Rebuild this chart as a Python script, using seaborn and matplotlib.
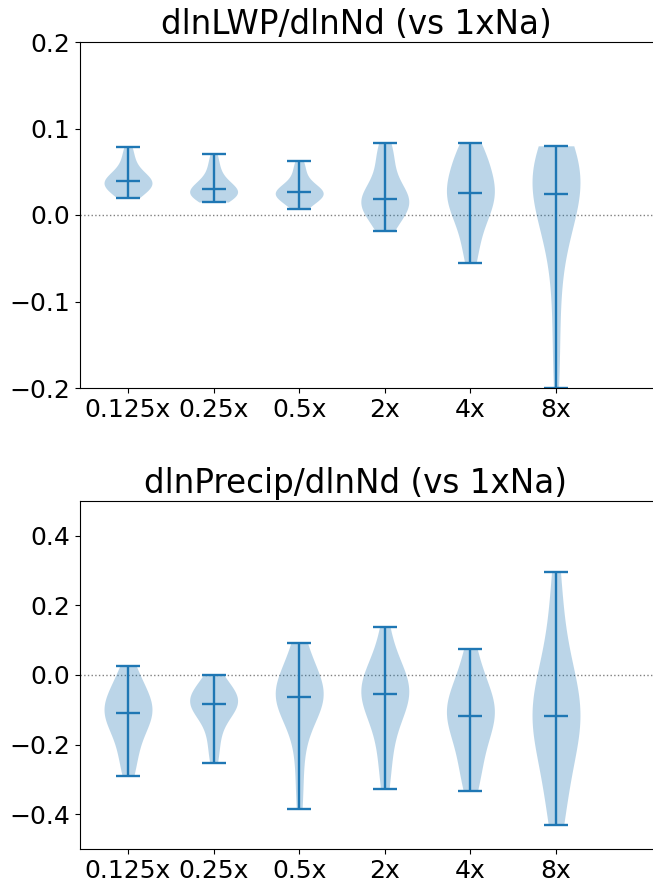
import numpy as np
import pandas as pd
import matplotlib
matplotlib.use("Agg")
import matplotlib.pyplot as plt
import seaborn as sns

categories = ["0.125x", "0.25x", "0.5x", "2x", "4x", "8x"]

lwp_0125 = [0.020, 0.023, 0.026, 0.029, 0.031, 0.033, 0.035, 0.037, 0.038, 0.039,
            0.040, 0.042, 0.044, 0.047, 0.050, 0.055, 0.062, 0.070, 0.079]
lwp_025 = [0.015, 0.018, 0.020, 0.022, 0.023, 0.024, 0.025, 0.027, 0.029, 0.030,
           0.032, 0.034, 0.036, 0.040, 0.045, 0.052, 0.060, 0.070]
lwp_05 = [0.007, 0.012, 0.016, 0.019, 0.021, 0.022, 0.023, 0.025, 0.026, 0.027,
          0.028, 0.030, 0.032, 0.035, 0.040, 0.047, 0.055, 0.062]
lwp_2 = [-0.0185, -0.012, -0.006, 0.000, 0.005, 0.008, 0.011, 0.013, 0.015, 0.017,
         0.019, 0.021, 0.024, 0.028, 0.033, 0.040, 0.048, 0.058, 0.068, 0.076, 0.083]
lwp_4 = [-0.056, -0.045, -0.033, -0.020, -0.008, -0.004, 0.002, 0.005, 0.010, 0.016,
         0.020, 0.023, 0.026, 0.029, 0.032, 0.036, 0.040, 0.045, 0.050, 0.056, 0.062,
         0.068, 0.073, 0.078, 0.083]
lwp_8 = [-0.200, -0.160, -0.120, -0.085, -0.055, -0.035, -0.020, -0.008, -0.003, 0.002,
         0.010, 0.016, 0.020, 0.024, 0.032, 0.036, 0.040, 0.045, 0.050, 0.055, 0.060,
         0.064, 0.068, 0.072, 0.075, 0.078, 0.080]

pr_0125 = [-0.289, -0.260, -0.230, -0.200, -0.175, -0.155, -0.140, -0.128, -0.118, -0.113,
           -0.104, -0.095, -0.087, -0.078, -0.068, -0.055, -0.040, -0.020, 0.000, 0.026]
pr_025 = [-0.252, -0.215, -0.180, -0.150, -0.125, -0.108, -0.097, -0.090, -0.086, -0.084,
          -0.077, -0.072, -0.066, -0.060, -0.052, -0.042, -0.030, -0.015, 0.000]
pr_05 = [-0.385, -0.300, -0.220, -0.160, -0.120, -0.095, -0.082, -0.074, -0.068, -0.065,
         -0.060, -0.053, -0.047, -0.040, -0.030, -0.015, 0.010, 0.040, 0.065, 0.092]
pr_2 = [-0.329, -0.270, -0.220, -0.175, -0.140, -0.112, -0.092, -0.078, -0.066, -0.058,
        -0.050, -0.043, -0.035, -0.026, -0.015, -0.002, 0.015, 0.040, 0.080, 0.137]
pr_4 = [-0.333, -0.305, -0.275, -0.245, -0.215, -0.190, -0.168, -0.150, -0.135, -0.122,
        -0.119, -0.105, -0.095, -0.085, -0.073, -0.060, -0.045, -0.025, 0.000, 0.040, 0.074]
pr_8 = [-0.432, -0.385, -0.330, -0.275, -0.225, -0.190, -0.160, -0.140, -0.128, -0.119,
        -0.105, -0.085, -0.060, -0.030, 0.000, 0.040, 0.100, 0.190, 0.295]

lwp_series = [lwp_0125, lwp_025, lwp_05, lwp_2, lwp_4, lwp_8]
pr_series = [pr_0125, pr_025, pr_05, pr_2, pr_4, pr_8]

titles = ["dlnLWP/dlnNd (vs 1xNa)", "dlnPrecip/dlnNd (vs 1xNa)"]
ylims = [(-0.2, 0.2), (-0.5, 0.5)]
yticks = [[-0.2, -0.1, 0.0, 0.1, 0.2], [-0.4, -0.2, 0.0, 0.2, 0.4]]

W, H = 653, 893
fig = plt.figure(figsize=(W / 100, H / 100), dpi=100)
ax_left = 80 / W
ax_right_px = 700
ax_w = (ax_right_px - 80) / W
axes = [fig.add_axes([ax_left, 1 - 388 / H, ax_w, (388 - 42) / H]),
        fig.add_axes([ax_left, 1 - 849 / H, ax_w, (849 - 501) / H])]

C0 = "#1f77b4"
step = 85.6
for ax, series, title, yl, yt in zip(axes, [lwp_series, pr_series], titles, ylims, yticks):
    df = pd.DataFrame({"cat": np.repeat(categories, [len(s) for s in series]),
                       "val": np.concatenate(series)})
    ax.axhline(0, color="gray", linestyle=":", linewidth=1, zorder=0.5)
    sns.violinplot(data=df, x="cat", y="val", order=categories, color=C0, saturation=1,
                   inner=None, cut=0, density_norm="width", width=0.56, linewidth=0,
                   bw_method="scott", bw_adjust=1.1, ax=ax)
    for c in ax.collections:
        c.set_alpha(0.3)
    pos = np.arange(len(categories))
    mins = np.array([np.min(s) for s in series])
    maxs = np.array([np.max(s) for s in series])
    meds = np.array([np.median(s) for s in series])
    ax.vlines(pos, mins, maxs, color=C0, linewidth=1.7)
    for v in (mins, maxs, meds):
        ax.hlines(v, pos - 0.14, pos + 0.14, color=C0, linewidth=1.7)
    ax.set_xlim(-48 / step, (ax_right_px - 128) / step)
    ax.set_ylim(*yl)
    ax.set_yticks(yt)
    ax.set_yticklabels([f"{t:.1f}".replace("-", "\u2212") for t in yt])
    ax.set_xticks(pos)
    ax.set_xticklabels(categories)
    ax.tick_params(labelsize=18)
    ax.spines["right"].set_visible(False)
    ax.set_xlabel("")
    ax.set_ylabel("")
    ax.set_title(title, fontsize=23.5, x=(356 - 80) / (ax_right_px - 80))

fig.savefig("out.png", dpi=100)
